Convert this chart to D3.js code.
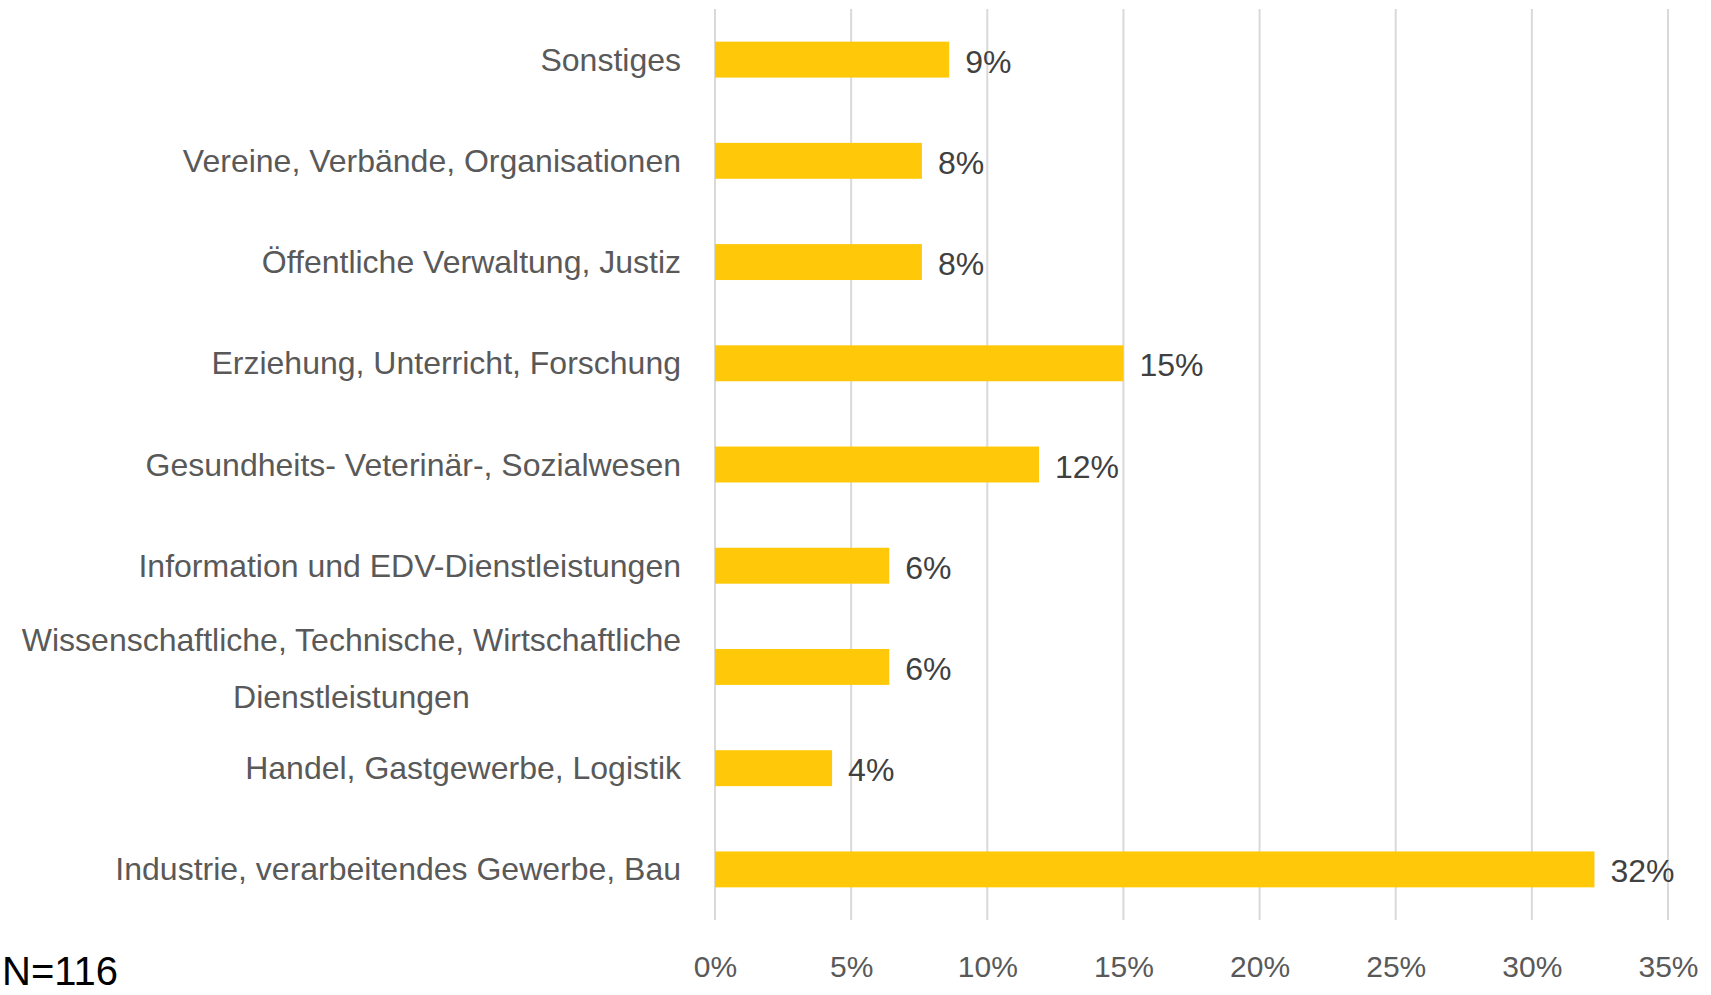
<!DOCTYPE html>
<html>
<head>
<meta charset="utf-8">
<script src="https://cdn.jsdelivr.net/npm/d3@7"></script>
<style>
  html, body { margin: 0; padding: 0; background: #ffffff; }
  svg { display: block; }
  text { font-family: "Liberation Sans", Arial, sans-serif; }
</style>
</head>
<body>
<svg id="chart" width="1711" height="995"></svg>
<script>
// Branchen der Befragten (Anteile in Prozent), von oben nach unten
const categories = [
  ["Sonstiges"],
  ["Vereine, Verbände, Organisationen"],
  ["Öffentliche Verwaltung, Justiz"],
  ["Erziehung, Unterricht, Forschung"],
  ["Gesundheits- Veterinär-, Sozialwesen"],
  ["Information und EDV-Dienstleistungen"],
  ["Wissenschaftliche, Technische, Wirtschaftliche", "Dienstleistungen"],
  ["Handel, Gastgewerbe, Logistik"],
  ["Industrie, verarbeitendes Gewerbe, Bau"]
];
const values = [8.6, 7.6, 7.6, 15.0, 11.9, 6.4, 6.4, 4.3, 32.3];
const xTicks = [0, 5, 10, 15, 20, 25, 30, 35];
const sampleNote = "N=116";

const svg = d3.select("#chart");

const keys = categories.map(c => c.join(" "));

const x = d3.scaleLinear().domain([0, 35]).range([715, 1668]);
const y = d3.scaleBand()
  .domain(keys)
  .range([9, 920])
  .paddingInner(0.645)
  .paddingOuter(0.3225);

// vertical gridlines
svg.append("g")
  .selectAll("line")
  .data(xTicks)
  .join("line")
  .attr("x1", d => x(d)).attr("x2", d => x(d))
  .attr("y1", 9).attr("y2", 920)
  .attr("stroke", "#d9d9d9")
  .attr("stroke-width", 2);

// x axis labels
const xAxis = d3.axisBottom(x)
  .tickValues(xTicks)
  .tickFormat(d => d + "%")
  .tickSize(0)
  .tickPadding(0);
const gx = svg.append("g")
  .attr("transform", "translate(0,977)")
  .call(xAxis);
gx.select(".domain").remove();
gx.selectAll("text")
  .attr("dy", 0)
  .attr("y", 0)
  .attr("fill", "#595959")
  .style("font-size", "30px")
  .style("font-family", "'Liberation Sans', Arial, sans-serif");

// bars
svg.append("g")
  .selectAll("rect")
  .data(values)
  .join("rect")
  .attr("x", x(0))
  .attr("y", (d, i) => y(keys[i]))
  .attr("width", d => x(d) - x(0))
  .attr("height", y.bandwidth())
  .attr("fill", "#ffc90a");

// value labels
svg.append("g")
  .selectAll("text")
  .data(values)
  .join("text")
  .attr("x", d => x(d) + 16)
  .attr("y", (d, i) => y(keys[i]) + y.bandwidth() / 2 + 13)
  .attr("fill", "#404040")
  .style("font-size", "32px")
  .text(d => Math.round(d) + "%");

// category labels (right-aligned; multi-line labels centred as a block)
const labelRight = 681;
const catG = svg.append("g");
categories.forEach((lines, i) => {
  const cy = y(keys[i]) + y.bandwidth() / 2;
  if (lines.length === 1) {
    catG.append("text")
      .attr("x", labelRight)
      .attr("y", cy + 11)
      .attr("text-anchor", "end")
      .attr("fill", "#595959")
      .style("font-size", "32px")
      .text(lines[0]);
  } else {
    const first = catG.append("text")
      .attr("x", labelRight)
      .attr("y", cy - 16)
      .attr("text-anchor", "end")
      .attr("fill", "#595959")
      .style("font-size", "32px")
      .text(lines[0]);
    const w = first.node().getComputedTextLength();
    catG.append("text")
      .attr("x", labelRight - w / 2)
      .attr("y", cy + 41)
      .attr("text-anchor", "middle")
      .attr("fill", "#595959")
      .style("font-size", "32px")
      .text(lines[1]);
  }
});

// sample size note
svg.append("text")
  .attr("x", 2)
  .attr("y", 985)
  .attr("fill", "#000000")
  .style("font-size", "40px")
  .text(sampleNote);
</script>
</body>
</html>
